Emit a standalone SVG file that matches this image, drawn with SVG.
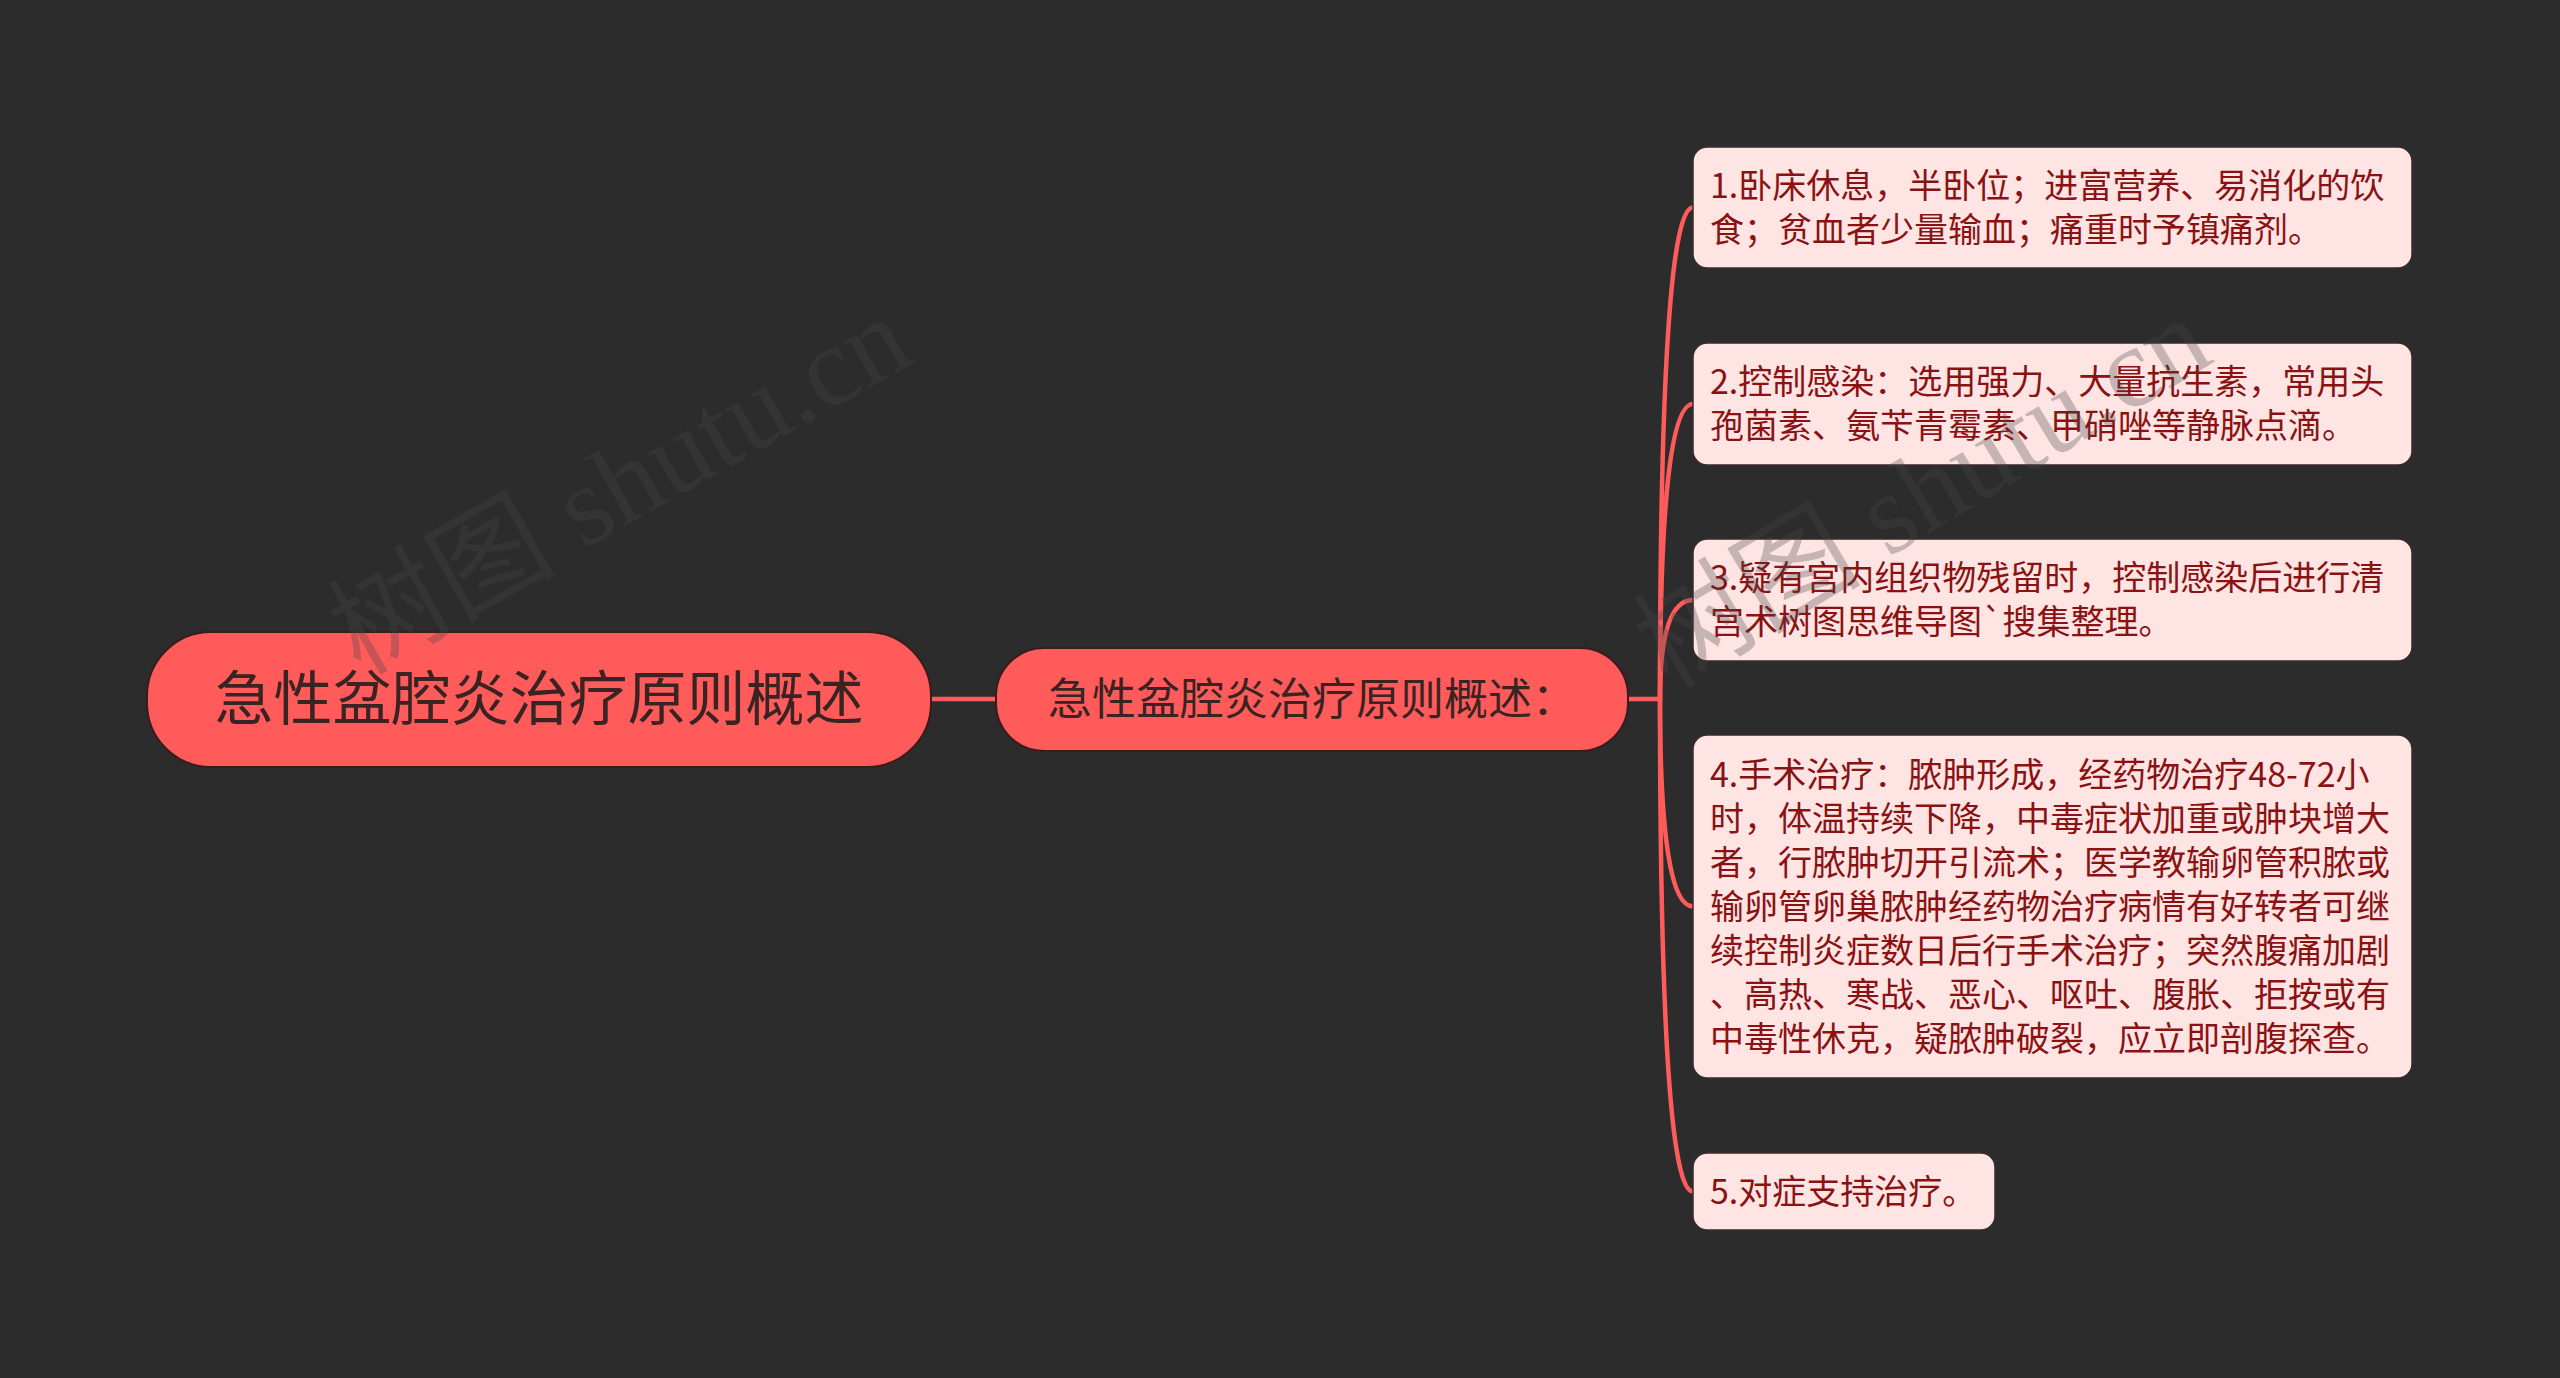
<svg xmlns="http://www.w3.org/2000/svg" width="2560" height="1378" viewBox="0 0 2560 1378">
<defs>
<style>
.bg{fill:#2c2c2c}
.conn{fill:none;stroke:#ff5b5b;stroke-width:4.5;stroke-linecap:round}
.main{fill:#ff5b5b;stroke:#3a1c1c;stroke-width:2}
.leaf{fill:#ffe4e4;stroke:#3a2a2a;stroke-width:1.5}
.t-root{font-family:"Noto Sans CJK SC","Noto Sans",sans-serif;font-size:59px;fill:#3a2323;text-anchor:middle}
.t-sub{font-family:"Noto Sans CJK SC","Noto Sans",sans-serif;font-size:44px;fill:#3a2323;text-anchor:middle}
.t-leaf{font-family:"Noto Sans CJK SC","Noto Sans",sans-serif;font-size:34px;fill:#8b1212}
.wm{font-family:"Liberation Serif","Noto Sans CJK SC",serif;font-size:114px;fill:#474747;opacity:0.3}
</style>
</defs>
<rect class="bg" x="0" y="0" width="2560" height="1378"/>

<g id="connectors">
<path class="conn" d="M931 699 L996 699"/>
<path class="conn" d="M1628 699 L1660 699"/>
<path class="conn" d="M1660 699 Q1660 207.5 1693 207.5"/>
<path class="conn" d="M1660 699 Q1660 404 1693 404"/>
<path class="conn" d="M1660 699 Q1660 600 1693 600"/>
<path class="conn" d="M1660 699 Q1660 906.5 1693 906.5"/>
<path class="conn" d="M1660 699 Q1660 1191.5 1693 1191.5"/>
</g>

<g id="root">
<rect class="main" x="147" y="632" width="784" height="135" rx="64" ry="64"/>
<text class="t-root" x="539" y="720">急性盆腔炎治疗原则概述</text>
</g>

<g id="sub">
<rect class="main" x="996" y="648" width="632" height="103" rx="48" ry="48"/>
<text class="t-sub" x="1312" y="715">急性盆腔炎治疗原则概述：</text>
</g>

<g id="leaf1">
<rect class="leaf" x="1693" y="147" width="719" height="121" rx="14" ry="14"/>
<text class="t-leaf" x="1710" y="197.5">1.卧床休息，半卧位；进富营养、易消化的饮</text>
<text class="t-leaf" x="1710" y="241.5">食；贫血者少量输血；痛重时予镇痛剂。</text>
</g>

<g id="leaf2">
<rect class="leaf" x="1693" y="343" width="719" height="122" rx="14" ry="14"/>
<text class="t-leaf" x="1710" y="394">2.控制感染：选用强力、大量抗生素，常用头</text>
<text class="t-leaf" x="1710" y="438">孢菌素、氨苄青霉素、甲硝唑等静脉点滴。</text>
</g>

<g id="leaf3">
<rect class="leaf" x="1693" y="539" width="719" height="122" rx="14" ry="14"/>
<text class="t-leaf" x="1710" y="590">3.疑有宫内组织物残留时，控制感染后进行清</text>
<text class="t-leaf" x="1710" y="634">宫术树图思维导图`搜集整理。</text>
</g>

<g id="leaf4">
<rect class="leaf" x="1693" y="735" width="719" height="343" rx="14" ry="14"/>
<text class="t-leaf" x="1710" y="786.5">4.手术治疗：脓肿形成，经药物治疗48-72小</text>
<text class="t-leaf" x="1710" y="830.5">时，体温持续下降，中毒症状加重或肿块增大</text>
<text class="t-leaf" x="1710" y="874.5">者，行脓肿切开引流术；医学教输卵管积脓或</text>
<text class="t-leaf" x="1710" y="918.5">输卵管卵巢脓肿经药物治疗病情有好转者可继</text>
<text class="t-leaf" x="1710" y="962.5">续控制炎症数日后行手术治疗；突然腹痛加剧</text>
<text class="t-leaf" x="1710" y="1006.5">、高热、寒战、恶心、呕吐、腹胀、拒按或有</text>
<text class="t-leaf" x="1710" y="1050.5">中毒性休克，疑脓肿破裂，应立即剖腹探查。</text>
</g>

<g id="leaf5">
<rect class="leaf" x="1693" y="1153" width="302" height="77" rx="14" ry="14"/>
<text class="t-leaf" x="1710" y="1203.5">5.对症支持治疗。</text>
</g>

<g id="watermarks">
<text class="wm" transform="translate(360 676) rotate(-29.5)">树图 shutu.cn</text>
<text class="wm" transform="translate(1668 690) rotate(-31)">树图 shutu.cn</text>
</g>
</svg>
